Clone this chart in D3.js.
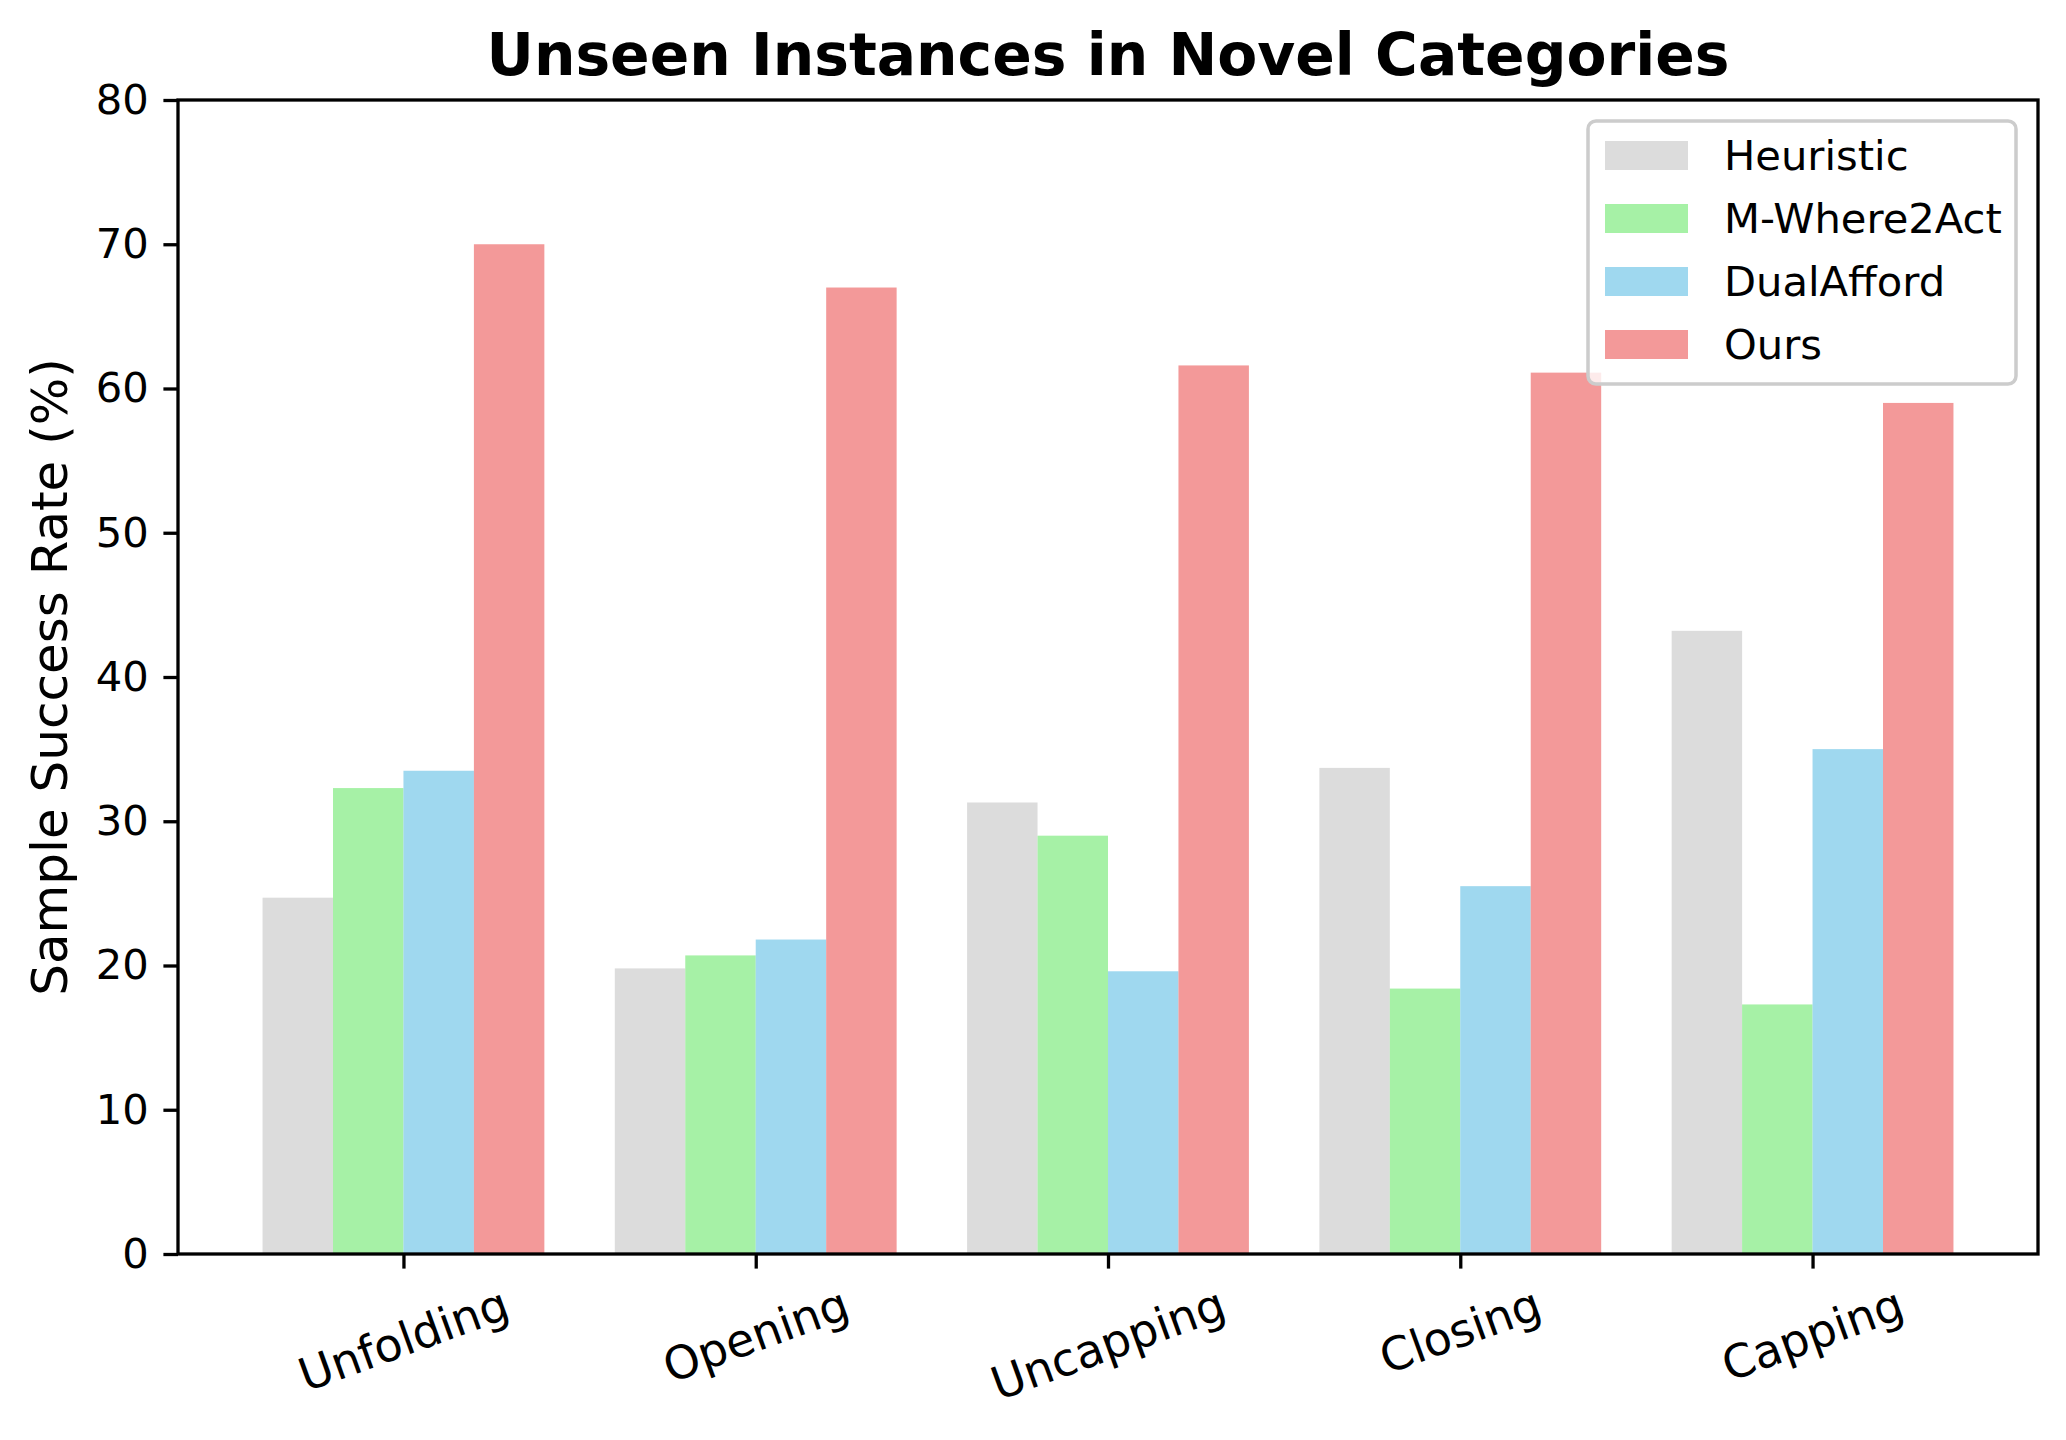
<!DOCTYPE html>
<html>
<head>
<meta charset="utf-8">
<script src="https://cdn.jsdelivr.net/npm/d3@7"></script>
<style>
  html, body {margin: 0; padding: 0; background: #fff;}
  svg {display: block; font-family: 'DejaVu Sans', sans-serif;}
</style>
</head>
<body>
<script>
const categories = ['Unfolding', 'Opening', 'Uncapping', 'Closing', 'Capping']
const methods = ['Heuristic', 'M-Where2Act', 'DualAfford', 'Ours']
const colors = ['#d3d3d3', '#90ee90', '#87ceeb', '#f08080']

const heuristic = [24.7, 19.8, 31.3, 33.7, 43.2]
const mWhere2Act = [32.3, 20.7, 29.0, 18.4, 17.3]
const dualAfford = [33.5, 21.8, 19.6, 25.5, 35.0]
const ours = [70.0, 67.0, 61.6, 61.1, 59.0]
const series = [heuristic, mWhere2Act, dualAfford, ours]

const yTicks = [0, 10, 20, 30, 40, 50, 60, 70, 80]

const W = 2066, H = 1440
const margin = {top: 100, right: 28, bottom: 186, left: 178}
const plotW = W - margin.left - margin.right
const plotH = H - margin.top - margin.bottom
const barW = 0.2

const svg = d3.select('body').append('svg').attr('width', W).attr('height', H)
const g = svg.append('g').attr('transform', `translate(${margin.left},${margin.top})`)

// numeric x like matplotlib, with 5% margins
const x = d3.scaleLinear().domain([-0.64, 4.64]).range([0, plotW])
const y = d3.scaleLinear().domain([0, 80]).range([plotH, 0])

// bars
series.forEach((vals, j) => {
  g.append('g').selectAll('rect').data(vals).enter().append('rect')
    .attr('x', (d, i) => x(i + (j - 2) * barW))
    .attr('width', x(barW) - x(0))
    .attr('y', d => y(d))
    .attr('height', d => plotH - y(d))
    .attr('fill', colors[j])
    .attr('fill-opacity', 0.8)
})

// y axis
const yAxis = g.append('g').call(d3.axisLeft(y).tickValues(yTicks).tickSize(14.6).tickPadding(14.6))
yAxis.select('.domain').remove()
yAxis.selectAll('line').attr('stroke', '#000').attr('stroke-width', 3.3)
yAxis.selectAll('text').attr('font-size', 41.67).attr('font-family', 'DejaVu Sans').attr('fill', '#000')

// x axis
const xAxis = g.append('g').attr('transform', `translate(0,${plotH})`)
  .call(d3.axisBottom(x).tickValues(d3.range(categories.length)).tickSize(14.6).tickFormat(''))
xAxis.select('.domain').remove()
xAxis.selectAll('line').attr('stroke', '#000').attr('stroke-width', 3.3)

// rotated category labels
const xFont = 45.8
const sin = Math.sin(20 * Math.PI / 180), cos = Math.cos(20 * Math.PI / 180)
const lineH = xFont * 1.164
g.append('g').selectAll('text').data(categories).enter().append('text')
  .text(d => d)
  .attr('font-size', xFont)
  .attr('text-anchor', 'middle')
  .attr('dominant-baseline', 'central')
  .each(function (d, i) {
    const w = this.getComputedTextLength()
    const cy = plotH + 23 + (w * sin + lineH * cos) / 2
    d3.select(this).attr('transform', `translate(${x(i)},${cy}) rotate(-20)`)
  })

// frame
g.append('rect').attr('width', plotW).attr('height', plotH)
  .attr('fill', 'none').attr('stroke', '#000').attr('stroke-width', 3.3)

// y label
svg.append('text')
  .attr('transform', `translate(67,${margin.top + plotH / 2}) rotate(-90)`)
  .attr('text-anchor', 'middle')
  .attr('font-size', 50)
  .text('Sample Success Rate (%)')

// title
svg.append('text')
  .attr('x', margin.left + plotW / 2).attr('y', 75)
  .attr('text-anchor', 'middle')
  .attr('font-size', 58.3).attr('font-weight', 'bold')
  .text('Unseen Instances in Novel Categories')

// legend
const lg = svg.append('g').attr('transform', 'translate(1588,121)')
lg.append('rect').attr('width', 428).attr('height', 263).attr('rx', 8)
  .attr('fill', '#fff').attr('fill-opacity', 0.8)
  .attr('stroke', '#cccccc').attr('stroke-width', 3.5)
const items = lg.selectAll('.item').data(methods).enter().append('g')
  .attr('transform', (d, i) => `translate(0,${34 + i * 63})`)
items.append('rect').attr('x', 17).attr('y', -14).attr('width', 83).attr('height', 29)
  .attr('fill', (d, i) => colors[i]).attr('fill-opacity', 0.8)
items.append('text').attr('x', 136).attr('y', 0).attr('dominant-baseline', 'central')
  .attr('font-size', 41.67).text(d => d)
</script>
</body>
</html>
